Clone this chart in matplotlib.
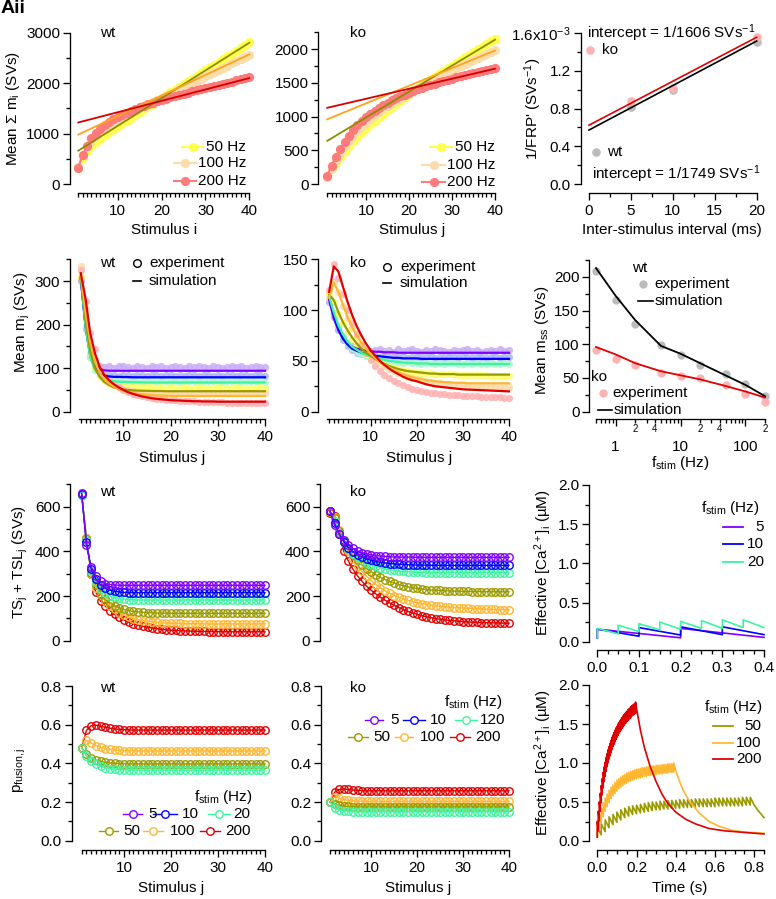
import numpy as np
import matplotlib
matplotlib.use('Agg')
import matplotlib.pyplot as plt
from matplotlib.lines import Line2D
from matplotlib.ticker import MultipleLocator, FixedLocator, FuncFormatter

plt.rcParams['font.family'] = ['Liberation Sans', 'DejaVu Sans']
plt.rcParams['mathtext.fontset'] = 'custom'
plt.rcParams['mathtext.rm'] = 'Liberation Sans'
plt.rcParams['mathtext.it'] = 'Liberation Sans:italic'
plt.rcParams['mathtext.default'] = 'regular'
plt.rcParams['axes.linewidth'] = 0.95

# ---------------- data ----------------
stim = np.arange(1, 41)
freqs = [5, 10, 20, 50, 100, 200]

# A: cumulative release (exp) and linear fits (values at j=1 and j=40)
a50w = [310,510,645,745,827,899,965,1027,1087,1145,
        1202,1259,1315,1371,1427,1483,1539,1595,1650,1706,
        1761,1816,1871,1926,1981,2036,2091,2146,2201,2256,
        2311,2366,2421,2476,2531,2586,2641,2696,2751,2806]
a100w = [335,570,735,855,950,1030,1100,1162,1218,1270,
         1319,1366,1411,1455,1498,1540,1581,1622,1663,1704,
         1747,1790,1833,1876,1919,1962,2005,2048,2091,2134,
         2177,2220,2263,2306,2349,2392,2435,2478,2521,2564]
a200w = [325,580,760,905,1005,1090,1162,1225,1281,1331,
         1376,1417,1455,1490,1523,1554,1584,1612,1640,1666,
         1692,1717,1741,1765,1789,1812,1835,1858,1880,1902,
         1924,1946,1968,1990,2011,2032,2053,2074,2095,2116]
a50k = [118,218,313,403,487,565,637,704,767,827,
        884,939,992,1043,1093,1142,1190,1237,1283,1329,
        1374,1418,1462,1506,1549,1591,1633,1675,1716,1757,
        1797,1838,1878,1918,1958,1997,2037,2076,2115,2154]
a100k = [110,240,358,463,557,642,719,789,853,912,
         967,1018,1066,1112,1156,1198,1238,1277,1314,1350,
         1387,1423,1458,1492,1525,1558,1591,1623,1654,1685,
         1716,1747,1777,1807,1837,1867,1896,1925,1954,1983]
a200k = [123,272,402,520,625,718,800,872,936,993,
         1044,1090,1132,1171,1207,1240,1271,1300,1327,1353,
         1378,1402,1425,1447,1468,1489,1509,1528,1546,1564,
         1582,1599,1615,1631,1647,1663,1678,1693,1708,1723]
fit_j = [1, 40]
fitw = {50: [660, 2800], 100: [980, 2570], 200: [1220, 2100]}
fitk = {50: [640, 2140], 100: [960, 1980], 200: [1130, 1710]}

# A3: 1/FRP' vs inter-stimulus interval (values x1e-3)
isi = [5, 10, 20]
frp_ko = [0.88, 1.02, 1.56]
frp_wt = [0.82, 1.00, 1.50]
isi_fit = [0, 20]
frpfit_ko = [0.623, 1.555]
frpfit_wt = [0.572, 1.515]

# B: mean m_j, experiment (dots) and simulation (lines)
e5w = [300,195,135,110,104,103,105,101,104,106,102,100,104,103,101,105,102,104,100,103,
       106,102,101,104,102,105,103,101,104,102,100,103,105,102,104,101,103,106,102,103]
e10w = [305,190,125,100,90,86,85,84,83,85,84,82,85,84,83,85,84,83,84,85,
        83,84,82,85,84,83,84,85,83,84,82,84,85,83,84,85,83,84,84,83]
e20w = [310,195,125,96,82,76,73,71,70,71,69,70,71,69,70,70,71,69,70,71,
        70,69,70,71,70,69,70,70,71,70,69,70,71,70,69,70,70,71,70,69]
e50w = [310,200,135,100,82,72,66,62,60,58,57,57,56,56,56,56,55,56,55,56,
        55,55,56,55,55,56,55,55,55,56,55,55,55,56,55,55,55,55,56,55]
e100w = [335,235,165,120,95,80,70,62,56,52,49,47,46,45,44,43,43,42,42,42,
         42,43,42,44,43,42,43,44,42,43,43,42,44,43,42,43,43,44,42,43]
e200w = [325,255,180,145,100,85,72,63,56,50,45,41,38,35,33,31,29.5,28.5,27.5,26.5,
         26,25,24.5,24,23.5,23,22.5,22,22,21.5,21.5,21,21,20.5,20.5,20.5,20,20,20,20]
s5w = [305,200,135,108,98,95,94,94,94,94,94,94,94,94,94,94,94,94,94,94,
       94,94,94,94,94,94,94,94,94,94,94,94,94,94,94,94,94,94,94,94]
s10w = [308,195,128,100,88,83,81,80,80,79.5,79.5,79,79,79,79,79,79,79,79,79,
        79,79,79,79,79,79,79,79,79,79,79,79,79,79,79,79,79,79,79,79]
s20w = [310,195,125,96,82,75,72,70,69,68.5,68,68,67.5,67.5,67,67,67,67,67,67,
        67,67,67,67,67,67,67,67,67,67,67,67,67,67,67,67,67,67,67,67]
s50w = [312,210,140,100,80,68,61,56,53,51,50,49,48.5,48,48,47.5,47.5,47.5,47,47,
        47,47,47,47,47,47,47,47,47,47,47,47,47,47,47,47,47,47,47,47]
s100w = [315,230,160,115,90,75,65,58,52,48,45,43,41,40,39,38,37.5,37,36.5,36.5,
         36,36,36,36,36,36,36,36,36,36,36,36,36,36,36,36,36,36,36,36]
s200w = [318,260,180,134,103,84,72,63,56,50,45,41,38,35,33,31,29.5,28.5,27.5,26.5,
         26,25.5,25,24.5,24,24,23.5,23.5,23.5,23,23,23,23,23,23,23,23,23,23,23]

e5k = [108,95,82,74,68,65,63,62,61,60,61,62,60,61,59,62,60,61,62,60,
       59,61,60,62,61,60,59,61,60,61,62,60,61,59,60,61,60,62,60,61]
e10k = [110,93,80,71,65,61,58,57,56,55,55,54,55,54,53,54,55,53,54,54,
        53,54,55,53,54,53,54,54,53,55,54,53,54,54,53,54,55,53,54,54]
e20k = [112,97,84,75,68,63,59,57,55,53,52,51,50,50,49,49,48,49,48,48,
        47,48,48,47,48,47,48,48,47,47,48,47,48,47,47,48,47,47,48,47]
e50k = [116,108,96,87,79,72,66,61,57,54,51,48,46,44,43,42,41,40,39.5,39,
        38.5,38,38,37.5,37.5,37,37,37,36.5,36.5,36.5,36,36,36,36,35.5,35.5,35.5,35.5,35.5]
e100k = [112,128,118,104,92,82,74,67,61,56,52,48,45,42,40,38,36,34.5,33,32,
         31,30,29,28.5,28,27.5,27,26.5,26,26,25.5,25.5,25,25,25,24.5,24.5,24.5,24,24]
e200k = [120,145,132,116,100,87,76,66,58,51,45,40,36,33,30,28,26,24,22.5,21,
         20,19,18.5,18,17.5,17,16.5,16,16,15.5,15.5,15,15,14.5,14.5,14,14,14,13.5,13.5]
s5k = [110,92,80,72,67,64,62,61,60,59.5,59,59,58.5,58.5,58.5,58,58,58,58,58,
       58,58,58,58,58,58,58,58,58,58,58,58,58,58,58,58,58,58,58,58]
s10k = [112,95,82,72,66,62,60,58,57,56,55,54.5,54,53.5,53,53,52.5,52.5,52.5,52.5,
        52,52,52,52,52,52,52,52,52,52,52,52,52,52,52,52,52,52,52,52]
s20k = [113,98,85,76,69,64,61,58,56,54.5,53,52,51,50,49.5,49,48.5,48,48,47.5,
        47.5,47.5,47,47,47,47,47,47,47,47,47,47,47,47,47,47,47,47,47,47]
s50k = [115,110,98,88,80,73,67,62,58,55,52,49,47,45,43.5,42,41,40,39.5,39,
        38.5,38,37.5,37.5,37,37,37,37,36.5,36.5,36.5,36.5,36.5,36.5,36.5,36.5,36.5,36.5,36.5,36.5]
s100k = [112,127,118,105,93,83,75,68,62,57,53,49,46,43.5,41,39,37,35.5,34,33,
         32,31,30.5,30,29.5,29,29,28.5,28.5,28.5,28,28,28,28,28,28,28,28,28,28]
s200k = [118,143,138,123,108,95,84,75,67,60.5,55,50,46,42.5,39.5,37,34.5,32.5,31,30,
         28.5,27,26,25,24.5,24,23.5,23,22.5,22,21.8,21.6,21.4,21.2,21,20.8,20.6,20.4,20.2,20]

# B3: steady-state release vs frequency
fss = [0.5, 1, 2, 5, 10, 20, 50, 100, 200]
mss_wt_exp = [208, 165, 130, 99, 84, 69.5, 55.6, 41, 23]
mss_wt_sim = [213, 172, 136, 97.6, 86, 72, 53.6, 39.7, 23]
mss_ko_exp = [92, 78, 69.5, 57, 53, 49.7, 39.7, 25.9, 15]
mss_ko_sim = [96, 85, 72, 60, 54, 48, 38, 30, 21]

# C: TS_j + TSL_j
c5w = [660,427,331,290,266,256,251,249,248,248,248,248,248,248,248,248,248,248,248,248,
       248,248,248,248,248,248,248,248,248,248,248,248,248,248,248,248,248,248,248,248]
c10w = [655,440,322,276,250,235,226,221,218,216,215,215,215,215,215,215,215,215,215,215,
        215,215,215,215,215,215,215,215,215,215,215,215,215,215,215,215,215,215,215,215]
c20w = [652,450,312,262,233,214,202,194,189,186,184,183,182.5,182,182,182,182,182,182,182,
        182,182,182,182,182,182,182,182,182,182,182,182,182,182,182,182,182,182,182,182]
c50w = [650,455,305,250,210,185,168,156,147,140,135,131,129,127,126,125,124,123.5,123,123,
        122.5,122.5,122.5,122.5,122.5,122.5,122.5,122.5,122.5,122.5,
        122.5,122.5,122.5,122.5,122.5,122.5,122.5,122.5,122.5,122.5]
c100w = [650,458,300,238,205,178,157,140,126,115,106,99,94,90,87,84,82,80,79,78,
         77.5,77,76.5,76,76,75.5,75.5,75,75,75,75,75,75,75,75,75,75,75,75,75]
c200w = [650,460,300,218,178,155,135,118,104,93,83,76,70,65,60,57,54,51,49,47,
         46,45,44,43,42.5,42,41.5,41,41,40.5,40.5,40,40,40,40,40,40,40,40,40]
c5k = [581,518,477,450,428,413,402,394,388,384,381,379,377,376,375,374.5,374,374,373.5,373.5,
       373,373,373,373,373,373,373,373,373,373,373,373,373,373,373,373,373,373,373,373]
c10k = [580,525,478,443,417,398,384,374,366,360,355,351,348,345.5,343.5,342,341,340,339,338.5,
        338,338,337.5,337.5,337,337,337,337,337,337,337,337,337,337,337,337,337,337,337,337]
c20k = [580,535,482,442,411,390,373,360,349,340,333,327,322,318,315,312,310,308.5,307,306,
        305.5,305,304.5,304.5,304,304,304,304,304,304,304,304,304,304,304,304,304,304,304,304]
c50k = [578,550,492,446,410,382,360,340,323,308,295,283,273,265,258,251,246,241,237,234,
        231,229,227,226,225,224,223,222,221.5,221,220.5,220,220,219.5,219.5,219,219,219,219,219]
c100k = [575,555,495,440,400,365,335,310,288,268,251,236,223,212,202,194,187,180,175,170,
         166,162,159,156,154,152,150,148,147,146,145,144,143,142,141,140.5,140,139.5,139,138]
c200k = [572,560,480,400,357,320,290,265,244,225,209,194,181,169,158,148,139,131,124,118,
         112,107,103,99,96,93,91,89,87,85.5,84,83,82,81,80.5,80,79.5,79,78.5,78]

# D: p_fusion,j
d20w = [0.48,0.44,0.41,0.395,0.385,0.378,0.373,0.37,0.368,0.367,0.366,0.366,0.365,0.365,0.365,0.365,0.365,0.365,0.365,0.365,
        0.365,0.365,0.365,0.365,0.365,0.365,0.365,0.365,0.365,0.365,0.365,0.365,0.365,0.365,0.365,0.365,0.365,0.365,0.365,0.365]
d50w = [0.48,0.45,0.43,0.418,0.41,0.405,0.402,0.4,0.399,0.398,0.397,0.397,0.397,0.397,0.397,0.397,0.397,0.397,0.397,0.397,
        0.397,0.397,0.397,0.397,0.397,0.397,0.397,0.397,0.397,0.397,0.397,0.397,0.397,0.397,0.397,0.397,0.397,0.397,0.397,0.397]
d100w = [0.48,0.52,0.505,0.492,0.482,0.476,0.472,0.469,0.467,0.466,0.465,0.465,0.464,0.464,0.464,0.464,0.464,0.464,0.464,0.464,
         0.464,0.464,0.464,0.464,0.464,0.464,0.464,0.464,0.464,0.464,0.464,0.464,0.464,0.464,0.464,0.464,0.464,0.464,0.464,0.464]
d200w = [0.48,0.57,0.595,0.597,0.592,0.587,0.582,0.578,0.576,0.574,0.573,0.572,0.572,0.572,0.572,0.572,0.572,0.572,0.572,0.572,
         0.572,0.572,0.572,0.572,0.572,0.572,0.572,0.572,0.572,0.572,0.572,0.572,0.572,0.572,0.572,0.572,0.572,0.572,0.572,0.572]
d20k = [0.20,0.17,0.16,0.155,0.152,0.151,0.15,0.15,0.15,0.15,0.15,0.15,0.15,0.15,0.15,0.15,0.15,0.15,0.15,0.15,
        0.15,0.15,0.15,0.15,0.15,0.15,0.15,0.15,0.15,0.15,0.15,0.15,0.15,0.15,0.15,0.15,0.15,0.15,0.15,0.15]
d50k = [0.20,0.19,0.183,0.179,0.177,0.176,0.175,0.175,0.175,0.175,0.175,0.175,0.175,0.175,0.175,0.175,0.175,0.175,0.175,0.175,
        0.175,0.175,0.175,0.175,0.175,0.175,0.175,0.175,0.175,0.175,0.175,0.175,0.175,0.175,0.175,0.175,0.175,0.175,0.175,0.175]
d100k = [0.20,0.225,0.22,0.213,0.209,0.206,0.205,0.204,0.203,0.203,0.203,0.203,0.203,0.203,0.203,0.203,0.203,0.203,0.203,0.203,
         0.203,0.203,0.203,0.203,0.203,0.203,0.203,0.203,0.203,0.203,0.203,0.203,0.203,0.203,0.203,0.203,0.203,0.203,0.203,0.203]
d200k = [0.20,0.25,0.265,0.267,0.265,0.262,0.26,0.259,0.258,0.258,0.258,0.258,0.258,0.258,0.258,0.258,0.258,0.258,0.258,0.258,
         0.258,0.258,0.258,0.258,0.258,0.258,0.258,0.258,0.258,0.258,0.258,0.258,0.258,0.258,0.258,0.258,0.258,0.258,0.258,0.258]

# C3 / D3: effective [Ca2+]i, peaks after each stimulus and troughs just before the next one
ca_base = 0.05
ca5_pk, ca5_tr = [0.16, 0.17], [0.05]
ca10_pk, ca10_tr = [0.16, 0.18, 0.19, 0.19], [0.07, 0.085, 0.09]
ca20_pk = [0.17, 0.21, 0.23, 0.25, 0.26, 0.27, 0.28, 0.28]
ca20_tr = [0.10, 0.13, 0.15, 0.16, 0.17, 0.17, 0.18]
ca_top_end = {5: 0.055, 10: 0.09, 20: 0.18}

ca50_pk = [0.17,0.22,0.27,0.31,0.34,0.37,0.40,0.42,0.44,0.45,0.46,0.47,0.48,0.49,0.50,0.50,0.51,0.51,0.52,0.52,
           0.52,0.53,0.53,0.53,0.53,0.54,0.54,0.54,0.54,0.54,0.55,0.55,0.55,0.55,0.55,0.55,0.55,0.56,0.56,0.56]
ca50_tr = [0.08,0.12,0.17,0.21,0.24,0.27,0.30,0.32,0.34,0.35,0.36,0.37,0.38,0.39,0.40,0.40,0.41,0.41,0.42,0.42,
           0.42,0.43,0.43,0.43,0.43,0.44,0.44,0.44,0.44,0.44,0.45,0.45,0.45,0.45,0.45,0.45,0.45,0.46,0.46]
ca100_pk = [0.25,0.34,0.42,0.49,0.55,0.60,0.65,0.69,0.72,0.75,0.78,0.80,0.82,0.84,0.85,0.87,0.88,0.89,0.90,0.91,
            0.92,0.92,0.93,0.94,0.94,0.95,0.95,0.96,0.96,0.96,0.97,0.97,0.97,0.98,0.98,0.98,0.99,0.99,0.99,1.00]
ca100_tr = [0.14,0.23,0.31,0.38,0.44,0.49,0.54,0.58,0.61,0.64,0.67,0.69,0.71,0.73,0.74,0.76,0.77,0.78,0.79,0.80,
            0.81,0.81,0.82,0.83,0.83,0.84,0.84,0.85,0.85,0.85,0.86,0.86,0.86,0.87,0.87,0.87,0.88,0.88,0.88]
ca200_pk = [0.25,0.38,0.50,0.61,0.71,0.80,0.88,0.95,1.01,1.07,1.12,1.17,1.21,1.25,1.29,1.33,1.36,1.39,1.42,1.45,
            1.47,1.50,1.52,1.54,1.56,1.58,1.60,1.62,1.63,1.65,1.66,1.68,1.69,1.70,1.72,1.73,1.74,1.75,1.76,1.78]
ca200_tr = [0.13,0.26,0.38,0.49,0.59,0.68,0.76,0.83,0.89,0.95,1.00,1.05,1.09,1.13,1.17,1.21,1.24,1.27,1.30,1.33,
            1.35,1.38,1.40,1.42,1.44,1.46,1.48,1.50,1.51,1.53,1.54,1.56,1.57,1.58,1.60,1.61,1.62,1.63,1.64]
tail50_t, tail50_v = [0.80, 0.82, 0.85], [0.46, 0.39, 0.30]
tail100_t = [0.40, 0.42, 0.44, 0.46, 0.48, 0.52, 0.57, 0.62, 0.68, 0.75, 0.85]
tail100_v = [0.90, 0.76, 0.64, 0.55, 0.48, 0.36, 0.25, 0.19, 0.14, 0.115, 0.10]
tail200_t = [0.20, 0.22, 0.24, 0.27, 0.30, 0.33, 0.36, 0.40, 0.45, 0.50, 0.57, 0.65, 0.75, 0.85]
tail200_v = [1.70, 1.42, 1.20, 0.95, 0.76, 0.60, 0.48, 0.37, 0.28, 0.22, 0.16, 0.13, 0.11, 0.09]

# ---------------- styles ----------------
col = {5: '#8000ff', 10: '#0000ff', 20: '#3cf5a0', 50: '#9a9a00', 100: '#ffb732', 200: '#e00000'}
ecol = {5: '#c9aaf7', 10: '#a9b6ff', 20: '#aef5d2', 50: '#ffff66', 100: '#ffdaa6', 200: '#ffb0b0'}
adot = {50: '#ffff4d', 100: '#fbdcab', 200: '#ff7a7a'}
afit = {50: '#8c8c00', 100: '#ffa31a', 200: '#d40000'}

W, H = 776, 899
fig = plt.figure(figsize=(W / 100, H / 100), dpi=100)
FS = 11


def fx(x):
    return x / W


def fy(y):
    return 1 - y / H


def mkax(x0, x1, yt, yb):
    return fig.add_axes([fx(x0), fy(yb), (x1 - x0) / W, (yb - yt) / H])


def style(ax, lo, bo, xaxis=True):
    for s in ['top', 'right']:
        ax.spines[s].set_visible(False)
    ax.spines['left'].set_position(('outward', lo * 0.72))
    if xaxis:
        ax.spines['bottom'].set_position(('outward', bo * 0.72))
    else:
        ax.spines['bottom'].set_visible(False)
        ax.tick_params(axis='x', which='both', bottom=False, labelbottom=False)
    ax.patch.set_visible(False)
    ax.tick_params(which='major', length=4.8, width=0.95, labelsize=FS)
    ax.tick_params(which='minor', length=2.6, width=0.95)
    ax.tick_params(axis='y', which='major', pad=2.2)
    ax.tick_params(axis='x', which='major', pad=3.0)


def T(x, y, s, ha='left', va='center', size=FS, **kw):
    fig.text(fx(x), fy(y), s, ha=ha, va=va, fontsize=size, **kw)


def sw(x0, x1, y, color, lw=1.0, marker=None, ms=5, mfc=None, mec=None):
    ln = Line2D([fx(x0), fx((x0 + x1) / 2), fx(x1)], [fy(y)] * 3, transform=fig.transFigure,
                color=color, lw=lw, marker=marker, markevery=[1], ms=ms,
                mfc=mfc if mfc is not None else color, mec=mec if mec is not None else color)
    fig.add_artist(ln)


def dot(x, y, color, ms=6, **kw):
    fig.add_artist(Line2D([fx(x)], [fy(y)], transform=fig.transFigure, marker='o', ms=ms, color=color, **kw))


def stim_x(ax, lo=1):
    ax.set_xlim(lo, 40)
    ax.xaxis.set_major_locator(FixedLocator([10, 20, 30, 40]))
    ax.xaxis.set_minor_locator(FixedLocator(list(range(1, 41))))


def saw(f, peaks, troughs, base, tail_t, tail_v):
    t, v = [0.0], [base]
    for k, p in enumerate(peaks):
        tk = k / f
        if k > 0:
            t.append(tk)
            v.append(troughs[k - 1])
        t.append(tk)
        v.append(p)
    return t + list(tail_t), v + list(tail_v)


# ---------------- Row A ----------------
axA1 = mkax(78.3, 249.3, 32.7, 184)
style(axA1, 8.3, 8.7)
for f, d in [(50, a50w), (100, a100w), (200, a200w)]:
    axA1.plot(stim, d, '-o', color=adot[f], ms=5.6, lw=1.5, clip_on=False)
for f in [50, 100, 200]:
    axA1.plot(fit_j, fitw[f], color=afit[f], lw=1.3, clip_on=False)
stim_x(axA1)
axA1.set_ylim(0, 3000)
axA1.yaxis.set_major_locator(MultipleLocator(1000))
axA1.yaxis.set_minor_locator(MultipleLocator(500))

axA2 = mkax(327.3, 495, 32.3, 184)
style(axA2, 9, 8.7)
for f, d in [(50, a50k), (100, a100k), (200, a200k)]:
    axA2.plot(stim, d, '-o', color=adot[f], ms=5.6, lw=1.5, clip_on=False)
for f in [50, 100, 200]:
    axA2.plot(fit_j, fitk[f], color=afit[f], lw=1.3, clip_on=False)
stim_x(axA2)
axA2.set_ylim(0, 2250)
axA2.yaxis.set_major_locator(FixedLocator([0, 500, 1000, 1500, 2000]))
axA2.yaxis.set_minor_locator(MultipleLocator(250))

axA3 = mkax(589, 756.7, 33, 184)
style(axA3, 8.3, 9)
axA3.plot(isi, frp_wt, 'o', color='#bcbcbc', ms=6.2, mec='none', clip_on=False)
axA3.plot(isi, frp_ko, 'o', color='#ffb3b3', ms=6.2, mec='none', clip_on=False)
axA3.plot(isi_fit, frpfit_ko, color='#e00000', lw=1.2, clip_on=False)
axA3.plot(isi_fit, frpfit_wt, color='black', lw=1.2, clip_on=False)
axA3.set_xlim(0, 20)
axA3.set_ylim(0, 1.6)
axA3.xaxis.set_major_locator(MultipleLocator(5))
axA3.xaxis.set_minor_locator(MultipleLocator(2.5))
axA3.yaxis.set_major_locator(FixedLocator([0, 0.4, 0.8, 1.2, 1.6]))
axA3.yaxis.set_minor_locator(MultipleLocator(0.2))
axA3.set_yticklabels(['0.0', '0.4', '0.8', '1.2', '1.6x10$^{-3}$'])

T(1, 0, 'Aii', va='top', size=14, weight='bold')
T(100, 33, 'wt')
T(350, 33, 'ko')
T(13, 108, 'Mean \u03a3 m$_i$ (SVs)', ha='center', rotation=90)
T(164, 230, 'Stimulus i', ha='center')
T(412, 230, 'Stimulus j', ha='center')
T(672, 230, 'Inter-stimulus interval (ms)', ha='center')
T(533, 109, "1/FRP' (SVs$^{-1}$)", ha='center', rotation=90)
for f, y, x0, x1 in [(50, 147, 182, 203), (100, 163, 174, 196), (200, 181, 174, 196)]:
    sw(x0, x1, y, adot[f], lw=1.5, marker='o', ms=5.6)
    T(246, y, '%d Hz' % f, ha='right')
for f, y, x0, x1 in [(50, 147, 430, 452), (100, 165, 422, 445), (200, 182, 422, 445)]:
    sw(x0, x1, y, adot[f], lw=1.5, marker='o', ms=5.6)
    T(495, y, '%d Hz' % f, ha='right')
T(587, 33, 'intercept = 1/1606 SVs$^{-1}$')
T(592, 174, 'intercept = 1/1749 SVs$^{-1}$')
dot(590, 50, '#ffb3b3', ms=6.2, mec='none')
T(602, 50, 'ko')
dot(596, 152, '#bcbcbc', ms=6.2, mec='none')
T(607, 152, 'wt')

# ---------------- Row B ----------------
axB1 = mkax(78.9, 265, 259.3, 411.7)
style(axB1, 8.9, 7.6)
for f, d in [(5, e5w), (10, e10w), (20, e20w), (50, e50w), (100, e100w), (200, e200w)]:
    axB1.plot(stim, d, 'o', color=ecol[f], ms=5.2, mec='none', alpha=0.85, clip_on=False)
for f, d in [(5, s5w), (10, s10w), (20, s20w), (50, s50w), (100, s100w), (200, s200w)]:
    axB1.plot(stim, d, '-', color=col[f], lw=1.6, clip_on=False)
stim_x(axB1, 0.6)
axB1.set_ylim(0, 350)
axB1.yaxis.set_major_locator(FixedLocator([0, 100, 200, 300]))
axB1.yaxis.set_minor_locator(MultipleLocator(50))

axB2 = mkax(327.3, 509, 259.3, 411.7)
style(axB2, 9, 7.6)
for f, d in [(5, e5k), (10, e10k), (20, e20k), (50, e50k), (100, e100k), (200, e200k)]:
    axB2.plot(stim, d, 'o', color=ecol[f], ms=5.2, mec='none', alpha=0.85, clip_on=False)
for f, d in [(5, s5k), (10, s10k), (20, s20k), (50, s50k), (100, s100k), (200, s200k)]:
    axB2.plot(stim, d, '-', color=col[f], lw=1.6, clip_on=False)
stim_x(axB2, 0.6)
axB2.set_ylim(0, 150)
axB2.yaxis.set_major_locator(MultipleLocator(50))
axB2.yaxis.set_minor_locator(MultipleLocator(25))

axB3 = mkax(596, 765, 260, 411.7)
style(axB3, 6.7, 7.3)
axB3.set_xscale('log')
axB3.plot(fss, mss_wt_exp, 'o', color='#bcbcbc', ms=6, mec='none', clip_on=False)
axB3.plot(fss, mss_ko_exp, 'o', color='#ffb3b3', ms=6, mec='none', clip_on=False)
axB3.plot(fss, mss_wt_sim, '-', color='black', lw=1.3, clip_on=False)
axB3.plot(fss, mss_ko_sim, '-', color='#e00000', lw=1.3, clip_on=False)
axB3.set_xlim(0.5, 200)
axB3.set_ylim(0, 225)
axB3.yaxis.set_major_locator(MultipleLocator(50))
axB3.yaxis.set_minor_locator(MultipleLocator(25))
axB3.xaxis.set_major_locator(FixedLocator([1, 10, 100]))
axB3.xaxis.set_major_formatter(FuncFormatter(lambda v, p: '%g' % v))
minors = [0.5, 0.6, 0.7, 0.8, 0.9, 2, 3, 4, 5, 6, 7, 8, 9, 20, 30, 40, 50, 60, 70, 80, 90, 200]
axB3.xaxis.set_minor_locator(FixedLocator(minors))
minor_lab = {2: '2', 4: '4', 20: '2', 40: '4', 200: '2'}
axB3.xaxis.set_minor_formatter(FuncFormatter(lambda v, p: minor_lab.get(int(round(v)), '') if v >= 1 else ''))
axB3.tick_params(axis='x', which='minor', labelsize=7, pad=1.2)
axB3.tick_params(axis='x', which='major', pad=10.5)

T(100, 263, 'wt')
dot(137, 263, 'black', ms=5.5, mfc='none', mec='black', mew=1)
T(149, 263, 'experiment')
fig.add_artist(Line2D([fx(133), fx(141)], [fy(281)] * 2, transform=fig.transFigure, color='black', lw=1.2))
T(149, 281, 'simulation')
T(350, 263, 'ko')
dot(387, 267, 'black', ms=5.5, mfc='none', mec='black', mew=1)
T(400, 267, 'experiment')
fig.add_artist(Line2D([fx(383), fx(391)], [fy(283)] * 2, transform=fig.transFigure, color='black', lw=1.2))
T(400, 283, 'simulation')
T(22, 322, 'Mean m$_j$ (SVs)', ha='center', rotation=90)
T(172, 458, 'Stimulus j', ha='center')
T(419, 458, 'Stimulus j', ha='center')
T(542, 340, 'Mean m$_{ss}$ (SVs)', ha='center', rotation=90)
T(680, 463, 'f$_{stim}$ (Hz)', ha='center')
T(632, 268, 'wt')
dot(643, 284, '#bcbcbc', ms=6, mec='none')
T(654, 284, 'experiment')
fig.add_artist(Line2D([fx(638), fx(653)], [fy(300.7)] * 2, transform=fig.transFigure, color='black', lw=1.2))
T(655, 300.7, 'simulation')
T(591, 377, 'ko')
dot(602.7, 393.3, '#ffb3b3', ms=6, mec='none')
T(612.7, 393.3, 'experiment')
fig.add_artist(Line2D([fx(598), fx(612)], [fy(410)] * 2, transform=fig.transFigure, color='black', lw=1.2))
T(614, 410, 'simulation')

# ---------------- Row C ----------------
axC1 = mkax(81.7, 265, 484.3, 640.7)
style(axC1, 11.7, 0, xaxis=False)
for f, d in [(200, c200w), (100, c100w), (50, c50w), (20, c20w), (10, c10w), (5, c5w)]:
    axC1.plot(stim, d, '-o', color=col[f], ms=5.4, mfc='none', mew=1.0, lw=1.0, clip_on=False)
stim_x(axC1)
axC1.set_ylim(0, 700)
axC1.yaxis.set_major_locator(FixedLocator([0, 200, 400, 600]))
axC1.yaxis.set_minor_locator(MultipleLocator(100))

axC2 = mkax(330, 509, 484.3, 640.7)
style(axC2, 10, 0, xaxis=False)
for f, d in [(200, c200k), (100, c100k), (50, c50k), (20, c20k), (10, c10k), (5, c5k)]:
    axC2.plot(stim, d, '-o', color=col[f], ms=5.4, mfc='none', mew=1.0, lw=1.0, clip_on=False)
stim_x(axC2)
axC2.set_ylim(0, 700)
axC2.yaxis.set_major_locator(FixedLocator([0, 200, 400, 600]))
axC2.yaxis.set_minor_locator(MultipleLocator(100))

axC3 = mkax(597.3, 764, 485, 641.7)
style(axC3, 8.3, 8.3)
for f, pk, tr in [(5, ca5_pk, ca5_tr), (10, ca10_pk, ca10_tr), (20, ca20_pk, ca20_tr)]:
    t, v = saw(f, pk, tr, ca_base, [0.4], [ca_top_end[f]])
    axC3.plot(t, v, color=col[f], lw=1.2, clip_on=False)
axC3.set_xlim(0, 0.4)
axC3.set_ylim(0, 2)
axC3.xaxis.set_major_locator(MultipleLocator(0.1))
axC3.xaxis.set_minor_locator(MultipleLocator(0.025))
axC3.yaxis.set_major_locator(MultipleLocator(0.5))
axC3.yaxis.set_minor_locator(MultipleLocator(0.25))
axC3.xaxis.set_major_formatter(FuncFormatter(lambda v, p: '%.1f' % v))
axC3.yaxis.set_major_formatter(FuncFormatter(lambda v, p: '%.1f' % v))

T(100, 492, 'wt')
T(350, 492, 'ko')
T(20, 562, 'TS$_j$ + TSL$_j$ (SVs)', ha='center', rotation=90)
T(543, 563, 'Effective [Ca$^{2+}$]$_i$ (\u00b5M)', ha='center', rotation=90)
T(701, 508.3, 'f$_{stim}$ (Hz)')
for f, y in [(5, 527.3), (10, 544), (20, 561.7)]:
    sw(723, 743, y, col[f], lw=1.3)
    T(764, y, '%d' % f, ha='right')

# ---------------- Row D ----------------
axD1 = mkax(81.7, 265, 686, 840.7)
style(axD1, 10, 9.3)
for f, d in [(200, d200w), (100, d100w), (50, d50w), (20, d20w)]:
    axD1.plot(stim, d, '-o', color=col[f], ms=5.4, mfc='none', mew=1.0, lw=1.0, clip_on=False)
stim_x(axD1)
axD1.set_ylim(0, 0.8)
axD1.yaxis.set_major_locator(MultipleLocator(0.2))
axD1.yaxis.set_minor_locator(MultipleLocator(0.1))
axD1.yaxis.set_major_formatter(FuncFormatter(lambda v, p: '%.1f' % v))

axD2 = mkax(330, 509, 686, 840.7)
style(axD2, 9, 9.3)
for f, d in [(200, d200k), (100, d100k), (50, d50k), (20, d20k)]:
    axD2.plot(stim, d, '-o', color=col[f], ms=5.4, mfc='none', mew=1.0, lw=1.0, clip_on=False)
stim_x(axD2)
axD2.set_ylim(0, 0.8)
axD2.yaxis.set_major_locator(MultipleLocator(0.2))
axD2.yaxis.set_minor_locator(MultipleLocator(0.1))
axD2.yaxis.set_major_formatter(FuncFormatter(lambda v, p: '%.1f' % v))

axD3 = mkax(597.3, 764, 685, 841)
style(axD3, 8.3, 9)
for f, pk, tr, tt, tv in [(50, ca50_pk, ca50_tr, tail50_t, tail50_v),
                          (100, ca100_pk, ca100_tr, tail100_t, tail100_v),
                          (200, ca200_pk, ca200_tr, tail200_t, tail200_v)]:
    t, v = saw(f, pk, tr, ca_base, tt, tv)
    axD3.plot(t, v, color=col[f], lw=1.2, clip_on=False)
axD3.set_xlim(0, 0.85)
axD3.set_ylim(0, 2)
axD3.xaxis.set_major_locator(MultipleLocator(0.2))
axD3.xaxis.set_minor_locator(MultipleLocator(0.05))
axD3.yaxis.set_major_locator(MultipleLocator(0.5))
axD3.yaxis.set_minor_locator(MultipleLocator(0.25))
axD3.xaxis.set_major_formatter(FuncFormatter(lambda v, p: '%.1f' % v))
axD3.yaxis.set_major_formatter(FuncFormatter(lambda v, p: '%.1f' % v))

T(100, 688, 'wt')
T(350, 688, 'ko')
T(20, 770, 'p$_{fusion,j}$', ha='center', rotation=90)
T(171, 888, 'Stimulus j', ha='center')
T(418, 888, 'Stimulus j', ha='center')
T(543, 763, 'Effective [Ca$^{2+}$]$_i$ (\u00b5M)', ha='center', rotation=90)
T(680, 888, 'Time (s)', ha='center')

T(194, 796.7, 'f$_{stim}$ (Hz)')
for f, y, x0, x1, xt in [(5, 814, 123, 142, 148), (10, 814, 153, 177, 182), (20, 814, 208, 230, 233),
                         (50, 831, 99, 118, 123), (100, 831, 143, 163, 170), (200, 831, 200, 220, 225)]:
    sw(x0, x1, y, col[f], lw=1.0, marker='o', ms=5.4, mfc='white', mec=col[f])
    T(xt, y, '%d' % f)
T(444, 701.7, 'f$_{stim}$ (Hz)')
for f, lab, y, x0, x1, xt in [(5, '5', 720, 365, 383, 390), (10, '10', 720, 403, 425, 430), (20, '120', 720, 455, 477, 480),
                              (50, '50', 737.3, 348, 368, 373), (100, '100', 737.3, 395, 413, 420), (200, '200', 737.3, 450, 470, 475)]:
    sw(x0, x1, y, col[f], lw=1.0, marker='o', ms=5.4, mfc='white', mec=col[f])
    T(xt, y, lab)

T(704, 707.3, 'f$_{stim}$ (Hz)')
for f, y in [(50, 726), (100, 742.7), (200, 759.3)]:
    sw(712.7, 732.7, y, col[f], lw=1.3)
    T(761.7, y, '%d' % f, ha='right')

fig.savefig('out.png', dpi=100)
